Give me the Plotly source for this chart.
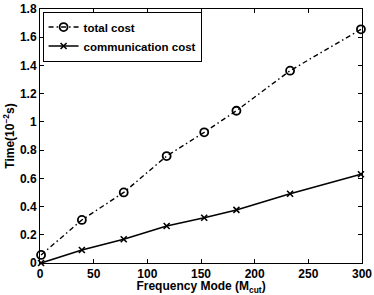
import plotly.graph_objects as go

freq_modes = [1, 39, 78, 118, 153, 183, 233, 299]
total_cost = [0.057, 0.305, 0.50, 0.758, 0.926, 1.079, 1.363, 1.656]
comm_cost = [0.0, 0.092, 0.168, 0.262, 0.321, 0.376, 0.491, 0.629]

x_ticks = [0, 50, 100, 150, 200, 250, 300]
y_ticks = [0, 0.2, 0.4, 0.6, 0.8, 1, 1.2, 1.4, 1.6, 1.8]
y_tick_labels = ["0", "0.2", "0.4", "0.6", "0.8", "1", "1.2", "1.4", "1.6", "1.8"]

font_family = "Liberation Sans, Arial, sans-serif"

fig = go.Figure()
fig.add_trace(go.Scatter(
    x=freq_modes, y=total_cost, name="<b>total cost</b>",
    mode="lines+markers",
    line=dict(color="black", width=1.4, dash="5px,3px,1.5px,3px"),
    marker=dict(symbol="circle-open", size=8, color="black", line=dict(width=1.8)),
    cliponaxis=False,
))
fig.add_trace(go.Scatter(
    x=freq_modes, y=comm_cost, name="<b>communication cost</b>",
    mode="lines+markers",
    line=dict(color="black", width=1.6),
    marker=dict(symbol="x-thin-open", size=6, color="black", line=dict(width=1.6, color="black")),
    cliponaxis=False,
))

axis_common = dict(
    showgrid=False, zeroline=False, showline=True, linecolor="black", linewidth=1,
    mirror="ticks", ticks="inside", ticklen=4, tickcolor="black", tickwidth=1,
    tickfont=dict(family=font_family, size=12, color="black"),
    automargin=False,
)

fig.update_layout(
    width=374, height=295,
    margin=dict(l=40, r=12, t=9, b=32),
    paper_bgcolor="white", plot_bgcolor="white",
    font=dict(family=font_family, color="black", size=12),
    showlegend=True,
    legend=dict(
        x=0.008, y=0.99, xanchor="left", yanchor="top",
        bordercolor="black", borderwidth=1, bgcolor="white",
        font=dict(family=font_family, size=11.5, color="black"),
        tracegroupgap=0, itemwidth=30,
    ),
    xaxis=dict(
        range=[0, 300], tickvals=x_ticks,
        ticktext=[f"<b>{v}</b>" for v in x_ticks],
        title=dict(text="<b>Frequency Mode (M<sub>cut</sub>)</b>", standoff=3,
                   font=dict(family=font_family, size=12, color="black")),
        **axis_common,
    ),
    yaxis=dict(
        range=[0, 1.8], tickvals=y_ticks,
        ticktext=[f"<b>{t}</b>" for t in y_tick_labels],
        title=dict(text="<b>Time(10<sup>−2</sup>s)</b>", standoff=2,
                   font=dict(family=font_family, size=12, color="black")),
        **axis_common,
    ),
)

fig.write_html(
    "out.html",
    config={"displayModeBar": False},
    post_script="document.body.style.margin='0';document.body.style.overflow='hidden';",
)
